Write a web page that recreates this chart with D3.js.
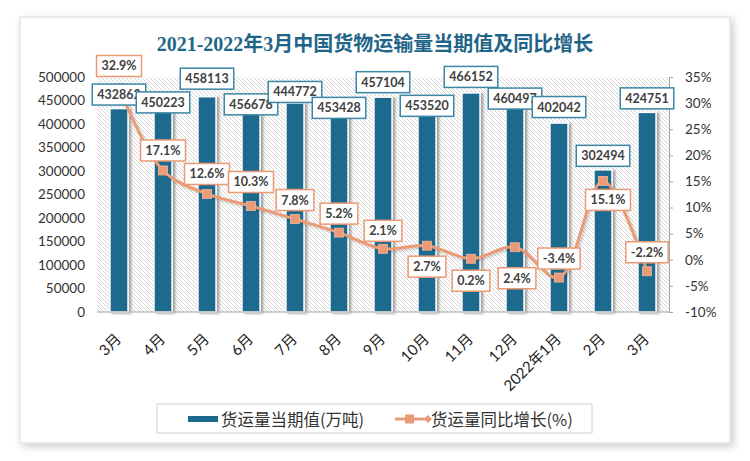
<!DOCTYPE html>
<html><head><meta charset="utf-8">
<script src="https://cdn.jsdelivr.net/npm/d3@7"></script>
<style>body{margin:0;background:#fff}</style>
</head><body><svg id="c" width="750" height="461"></svg>
<script>
const categories = ["3月","4月","5月","6月","7月","8月","9月","10月","11月","12月","2022年1月","2月","3月"];
const volume = [432862,450223,458113,456678,444772,453428,457104,453520,466152,460497,402042,302494,424751];
const growth = [32.9,17.1,12.6,10.3,7.8,5.2,2.1,2.7,0.2,2.4,-3.4,15.1,-2.2];
const leftTicks = [0,50000,100000,150000,200000,250000,300000,350000,400000,450000,500000];
const rightTicks = [-10,-5,0,5,10,15,20,25,30,35];
const titleText = "2021-2022年3月中国货物运输量当期值及同比增长";
const seriesNames = ["货运量当期值(万吨)","货运量同比增长(%)"];

// label layout offsets (pixels, layout only)
const volLabelDy = [-14,2,-18,7,-11,9,-15,7,-16,3,-16,-14,-14];
const growthLabelDy = [-22,-20,-20,-24,-19,-19,-18,21,22,31,-19,19,-19];
const growthLabelDx = [0,0,0,0,0,0,0,0,0,2,0,5,0];

const svg = d3.select("#c");
const defs = svg.append("defs");
const cardShadow = defs.append("filter").attr("id","cs").attr("x","-5%").attr("y","-5%").attr("width","112%").attr("height","115%");
cardShadow.append("feDropShadow").attr("dx",3).attr("dy",3).attr("stdDeviation",4).attr("flood-color","#000").attr("flood-opacity",0.2);
const barShadow = defs.append("filter").attr("id","bs").attr("x","-30%").attr("y","-10%").attr("width","180%").attr("height","130%");
barShadow.append("feDropShadow").attr("dx",2.5).attr("dy",1).attr("stdDeviation",1.2).attr("flood-color","#000").attr("flood-opacity",0.35);
const lineShadow = defs.append("filter").attr("id","ls").attr("x","-10%").attr("y","-10%").attr("width","130%").attr("height","130%");
lineShadow.append("feDropShadow").attr("dx",1.5).attr("dy",1.5).attr("stdDeviation",1).attr("flood-color","#000").attr("flood-opacity",0.2);
const pat = defs.append("pattern").attr("id","hatch").attr("patternUnits","userSpaceOnUse").attr("width",4).attr("height",4);
pat.append("rect").attr("width",4).attr("height",4).attr("fill","#fff");
pat.append("path").attr("d","M-1,-1 L5,5 M-1,3 L1,5 M3,-1 L5,1").attr("stroke","#d6d6d6").attr("stroke-width",1);

// card
svg.append("rect").attr("x",20).attr("y",17).attr("width",710).attr("height",426)
  .attr("fill","#fff").attr("stroke","#d9d9d9").attr("stroke-width",1).attr("filter","url(#cs)");

// title
svg.append("text").attr("x",375).attr("y",51).attr("text-anchor","middle")
  .attr("font-family","'Liberation Serif','Noto Sans CJK SC',serif").attr("font-size",20).attr("font-weight","bold")
  .attr("fill","#1f6588").text(titleText);

const plotL = 97, plotR = 669, plotT = 77, plotB = 312;
const x = d3.scaleBand().domain(d3.range(categories.length)).range([plotL,plotR]).paddingInner(0.59).paddingOuter(0.295);
const yL = d3.scaleLinear().domain([0,500000]).range([plotB,plotT]);
const yR = d3.scaleLinear().domain([-10,35]).range([plotB,plotT]);
const cx = i => x(i) + x.bandwidth()/2;

// plot area hatch
svg.append("rect").attr("x",plotL).attr("y",plotT).attr("width",plotR-plotL).attr("height",plotB-plotT).attr("fill","url(#hatch)");

// left axis
const axL = svg.append("g").attr("transform",`translate(${plotL},0)`)
  .call(d3.axisLeft(yL).tickValues(leftTicks).tickSize(0).tickPadding(12).tickFormat(d3.format("d")));
axL.select(".domain").remove();
axL.selectAll("text").attr("font-family","Lato,'Noto Sans',sans-serif").attr("font-size",13.5).attr("fill","#333");

// right axis
const axR = svg.append("g").attr("transform",`translate(${plotR},0)`)
  .call(d3.axisRight(yR).tickValues(rightTicks).tickSize(4).tickPadding(12).tickFormat(d => d + "%"));
axR.select(".domain").attr("stroke","#a6a6a6");
axR.selectAll("line").attr("stroke","#a6a6a6");
axR.selectAll("text").attr("font-family","Lato,'Noto Sans',sans-serif").attr("font-size",13.5).attr("fill","#333");

// bars
svg.append("g").selectAll("rect").data(volume).join("rect")
  .attr("x",(d,i)=>x(i)).attr("width",x.bandwidth())
  .attr("y",d=>yL(d)).attr("height",d=>yL(0)-yL(d))
  .attr("fill","#1b6a8e").attr("stroke","#fff").attr("stroke-width",1.5).attr("filter","url(#bs)");

// baseline
svg.append("line").attr("x1",plotL).attr("x2",plotR).attr("y1",plotB).attr("y2",plotB).attr("stroke","#bfbfbf").attr("stroke-width",1.5);

// x axis labels
const axB = svg.append("g").attr("transform",`translate(0,${plotB})`)
  .call(d3.axisBottom(x).tickSize(0).tickFormat(i=>categories[i]));
axB.select(".domain").remove();
axB.selectAll("text").attr("font-family","Lato,'Noto Sans CJK SC',sans-serif").attr("font-size",15).attr("fill","#222")
  .attr("text-anchor","end").attr("dy",0).attr("y",0)
  .attr("transform","translate(3,28) rotate(-45)");

// line
const orange = "#ea9a74";
const line = d3.line().x((d,i)=>cx(i)).y(d=>yR(d)).curve(d3.curveCatmullRom.alpha(0.5));
svg.append("path").datum(growth).attr("d",line).attr("fill","none").attr("stroke",orange).attr("stroke-width",3).attr("filter","url(#ls)");
svg.append("g").selectAll("rect").data(growth).join("rect")
  .attr("x",(d,i)=>cx(i)-4.5).attr("y",d=>yR(d)-4.5).attr("width",9).attr("height",9)
  .attr("fill",orange).attr("stroke","#f0b89c").attr("stroke-width",0.8);

// labels
function box(g, cxp, cyp, text, border){
  const t = g.append("text").attr("x",cxp).attr("y",cyp).attr("text-anchor","middle").attr("dominant-baseline","central")
    .attr("font-family","Lato,'Noto Sans',sans-serif").attr("font-weight","bold").attr("font-size",12.5).attr("fill","#404040").text(text);
  const w = t.node().getComputedTextLength();
  g.insert("rect","text:last-child").attr("x",cxp - w/2 - 5).attr("y",cyp-10.5).attr("width",w+10).attr("height",21)
    .attr("fill","#fff").attr("stroke",border).attr("stroke-width",1.5);
}
const lg = svg.append("g");
volume.forEach((v,i)=>{ const g = lg.append("g"); box(g, cx(i), yL(v)+volLabelDy[i], String(v), "#3d86a6"); });
growth.forEach((v,i)=>{ const g = lg.append("g"); box(g, cx(i)+growthLabelDx[i], yR(v)+growthLabelDy[i], v.toFixed(1)+"%", orange); });

// legend
const leg = svg.append("g");
leg.append("rect").attr("x",157).attr("y",404).attr("width",435).attr("height",29).attr("fill","#fff").attr("stroke","#d0d0d0").attr("stroke-width",1);
leg.append("rect").attr("x",188).attr("y",416).attr("width",30).attr("height",6).attr("fill","#1b6a8e");
leg.append("text").attr("x",221).attr("y",419).attr("dominant-baseline","central").attr("font-family","'Noto Sans CJK SC',sans-serif").attr("font-size",16.5).attr("fill","#333").text(seriesNames[0]);
leg.append("line").attr("x1",395).attr("x2",427).attr("y1",419).attr("y2",419).attr("stroke",orange).attr("stroke-width",3);
leg.append("rect").attr("x",405).attr("y",414.5).attr("width",9).attr("height",9).attr("fill",orange);
leg.append("path").attr("d","M424,419 L428,415 L432,419 L428,423 Z").attr("fill",orange);
leg.append("text").attr("x",431).attr("y",419).attr("dominant-baseline","central").attr("font-family","'Noto Sans CJK SC',sans-serif").attr("font-size",16.5).attr("fill","#333").text(seriesNames[1]);
</script></body></html>
